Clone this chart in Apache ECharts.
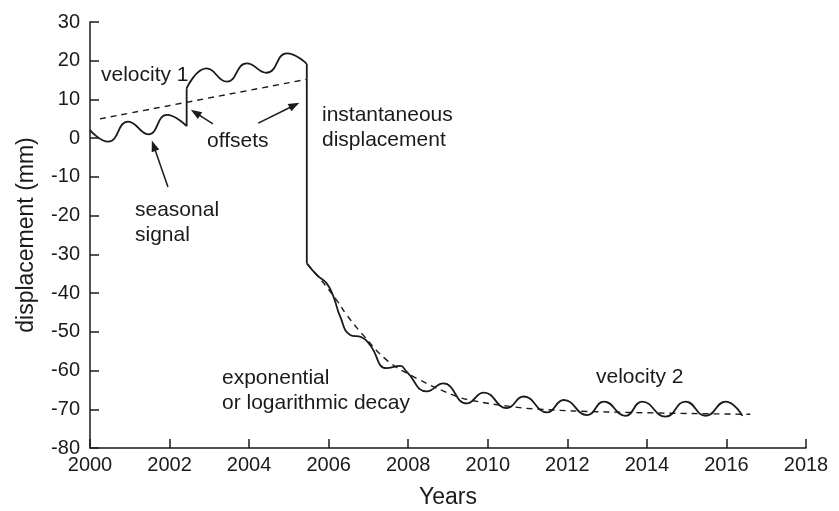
<!DOCTYPE html>
<html>
<head>
<meta charset="utf-8">
<script src="https://cdn.jsdelivr.net/npm/echarts@6/dist/echarts.min.js"></script>
<style>
  html, body { margin: 0; padding: 0; background: #fff; }
  #chart { width: 839px; height: 511px; }
</style>
</head>
<body>
<div id="chart"></div>
<script>
// seasonal signal + velocity 1, before the first offset
const seg1Years = [2000, 2000.46, 2000.96, 2001.47, 2001.93, 2002.43]
const seg1Disp = [2.1, -0.9, 4.3, 1.0, 6.0, 3.1]
// after the offset, up to the instantaneous displacement
const seg2Years = [2002.43, 2002.93, 2003.44, 2003.94, 2004.44, 2004.95, 2005.45]
const seg2Disp = [12.9, 18.0, 14.6, 19.3, 16.9, 21.9, 19.2]
// decay + velocity 2
const seg3Years = [2005.45, 2005.7, 2005.95, 2006.12, 2006.29, 2006.54, 2006.83, 2007.04, 2007.46, 2007.8,
  2007.96, 2008.47, 2008.88, 2009.47, 2009.9, 2010.48, 2010.9, 2011.49, 2011.91, 2012.5,
  2012.92, 2013.46, 2013.88, 2014.47, 2014.97, 2015.48, 2015.98, 2016.4]
const seg3Disp = [-32.3, -35.3, -37.5, -40.9, -46.1, -50.8, -51.4, -53.4, -59.4, -58.8,
  -60.3, -65.4, -63.3, -68.5, -65.7, -69.7, -66.7, -70.8, -67.6, -71.5,
  -68.0, -71.7, -68.0, -71.9, -68.0, -71.7, -68.0, -71.7]
// vertical jumps
const offsetYears = [2002.43, 2002.43]
const offsetDisp = [3.1, 12.9]
const dropYears = [2005.45, 2005.45]
const dropDisp = [19.2, -32.3]
// dashed trends
const trend1Years = [2000.25, 2005.45]
const trend1Disp = [5.0, 15.2]
const trend2Years = [2005.46, 2005.8, 2006.2, 2006.45, 2006.83, 2007.46, 2008.21, 2009.22, 2009.64, 2010.5, 2011.3, 2013, 2016.6]
const trend2Disp = [-32.5, -36.5, -41.8, -45.6, -50.4, -57.3, -62, -66.7, -67.8, -69.2, -70.0, -70.7, -71.3]
// arrows (tail -> head)
const arrowTails = [[2001.96, -12.6], [2003.09, 3.7], [2004.23, 3.9]]
const arrowHeads = [[2001.6, -1.95], [2002.65, 6.6], [2005.14, 8.5]]
// axis ticks
const xTicks = { min: 2000, max: 2018, step: 2 }
const yTicks = { min: -80, max: 30, step: 10 }

const FONT = "'Liberation Sans', Arial, sans-serif"
const INK = '#1a1a1a'

function pairs(xs, ys) {
  return xs.map((x, i) => [x, ys[i]])
}

function solid(name, xs, ys, smooth) {
  return {
    name: name,
    type: 'line',
    data: pairs(xs, ys),
    smooth: smooth ? 0.5 : false,
    showSymbol: false,
    symbol: 'none',
    lineStyle: { color: INK, width: 1.8 }
  }
}

function dashed(name, xs, ys) {
  return {
    name: name,
    type: 'line',
    data: pairs(xs, ys),
    smooth: 0.4,
    symbol: 'none',
    lineStyle: { color: INK, width: 1.4, type: [6, 5] }
  }
}

function label(text, x, y) {
  return {
    type: 'text',
    x: x,
    y: y,
    style: {
      text: text,
      fill: INK,
      font: '21px ' + FONT,
      align: 'left',
      verticalAlign: 'middle',
      lineHeight: 25
    }
  }
}

const chart = echarts.init(document.getElementById('chart'))

const seg1 = solid('seg1', seg1Years, seg1Disp, true)
seg1.markLine = {
  silent: true,
  animation: false,
  symbol: ['none', 'triangle'],
  symbolSize: [8, 11],
  label: { show: false },
  lineStyle: { color: INK, width: 1.5, type: 'solid' },
  data: arrowTails.map((t, i) => [{ coord: t }, { coord: arrowHeads[i] }])
}

chart.setOption({
  animation: false,
  grid: { left: 90, right: 33, top: 22, bottom: 63, containLabel: false, outerBoundsMode: 'none' },
  xAxis: {
    type: 'value',
    min: xTicks.min,
    max: xTicks.max,
    interval: xTicks.step,
    name: 'Years',
    nameLocation: 'middle',
    nameGap: 38,
    nameTextStyle: { color: INK, fontSize: 23, fontFamily: FONT },
    axisLine: { onZero: false, lineStyle: { color: INK, width: 1.5 } },
    axisTick: { inside: true, length: 9, lineStyle: { color: INK, width: 1.5 } },
    axisLabel: { color: INK, fontSize: 20, fontFamily: FONT, margin: 7, formatter: v => String(v) },
    splitLine: { show: false }
  },
  yAxis: {
    type: 'value',
    min: yTicks.min,
    max: yTicks.max,
    interval: yTicks.step,
    name: 'displacement (mm)',
    nameLocation: 'middle',
    nameGap: 52,
    nameTextStyle: { color: INK, fontSize: 23, fontFamily: FONT },
    axisLine: { show: true, onZero: false, lineStyle: { color: INK, width: 1.5 } },
    axisTick: { show: true, inside: true, length: 9, lineStyle: { color: INK, width: 1.5 } },
    axisLabel: { color: INK, fontSize: 20, fontFamily: FONT, margin: 10 },
    splitLine: { show: false }
  },
  series: [
    seg1,
    solid('offset', offsetYears, offsetDisp, false),
    solid('seg2', seg2Years, seg2Disp, true),
    solid('drop', dropYears, dropDisp, false),
    solid('seg3', seg3Years, seg3Disp, true),
    dashed('trend1', trend1Years, trend1Disp),
    dashed('trend2', trend2Years, trend2Disp)
  ],
  graphic: [
    label('velocity 1', 101, 75),
    label('offsets', 207, 141),
    label('instantaneous\ndisplacement', 322, 128),
    label('seasonal\nsignal', 135, 223),
    label('exponential\nor logarithmic decay', 222, 391),
    label('velocity 2', 596, 377)
  ]
})
</script>
</body>
</html>
